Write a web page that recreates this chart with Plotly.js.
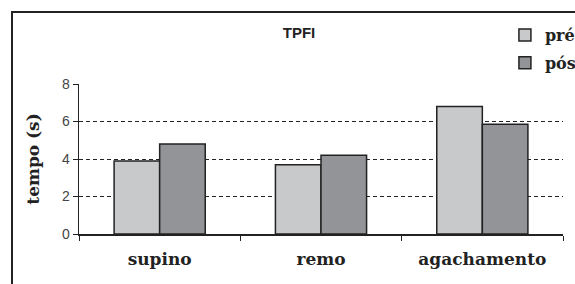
<!DOCTYPE html>
<html><head><meta charset="utf-8">
<script src="https://cdn.plot.ly/plotly-3.0.1.min.js"></script>
<style>
html,body{margin:0;padding:0;background:#fff;overflow:hidden;}
#frame{position:absolute;left:11px;top:11px;width:700px;height:400px;border-left:2px solid #222;border-top:2px solid #222;}
#chart{position:absolute;left:0;top:0;width:575px;height:284px;}
</style></head>
<body>
<div id="frame"></div>
<div id="chart"></div>
<script>
const categories = ['supino', 'remo', 'agachamento'];
const preValues = [3.9, 3.7, 6.8];
const posValues = [4.8, 4.2, 5.85];
const seriesNames = ['pré', 'pós'];
const yTicks = [0, 2, 4, 6, 8];

const serif = 'DejaVu Serif, serif';
const data = [
  {type:'bar', x:categories, y:preValues, name:seriesNames[0], legendgroup:'a',
   marker:{color:'#c8c9cb', line:{color:'#222', width:1.5}}},
  {type:'bar', x:categories, y:posValues, name:seriesNames[1], legendgroup:'b',
   marker:{color:'#939497', line:{color:'#222', width:1.5}}}
];
const layout = {
  width:575, height:284,
  margin:{l:79, r:12, t:84, b:50, autoexpand:false},
  paper_bgcolor:'rgba(0,0,0,0)', plot_bgcolor:'rgba(0,0,0,0)',
  barmode:'group', bargap:0.435, bargroupgap:0,
  title:{text:'<b>TPFI</b>', x:0.52, xanchor:'center', y:1-33/284, yanchor:'middle',
         font:{family:'Liberation Sans, Arial', size:15, color:'#222'}},
  showlegend:true,
  legend:{x:0.88, xanchor:'left', y:1+ (84-18)/150, yanchor:'top',
          font:{family:serif, size:16, color:'#222', weight:'bold'},
          traceorder:'grouped', tracegroupgap:4, bgcolor:'rgba(0,0,0,0)'},
  xaxis:{type:'category', showline:true, linecolor:'#222', linewidth:1.5,
         ticks:'outside', tickson:'boundaries', ticklen:5, tickcolor:'#222',
         ticklabelstandoff:9,
         tickfont:{family:serif, size:17, color:'#222', weight:'bold'},
         showgrid:false, fixedrange:true},
  yaxis:{range:[0,8], tickvals:yTicks, showline:true, linecolor:'#222', linewidth:1.5,
         ticks:'outside', ticklen:5, tickcolor:'#222',
         tickfont:{family:'Liberation Sans, Arial', size:14, color:'#444'},
         showgrid:true, gridcolor:'#222', gridwidth:1, griddash:'4px,3px',
         zeroline:false,
         title:{text:'<b>tempo (s)</b>', font:{family:serif, size:17, color:'#222'}, standoff:18}}
};
Plotly.newPlot('chart', data, layout, {displayModeBar:false, staticPlot:true});
</script>
</body></html>
